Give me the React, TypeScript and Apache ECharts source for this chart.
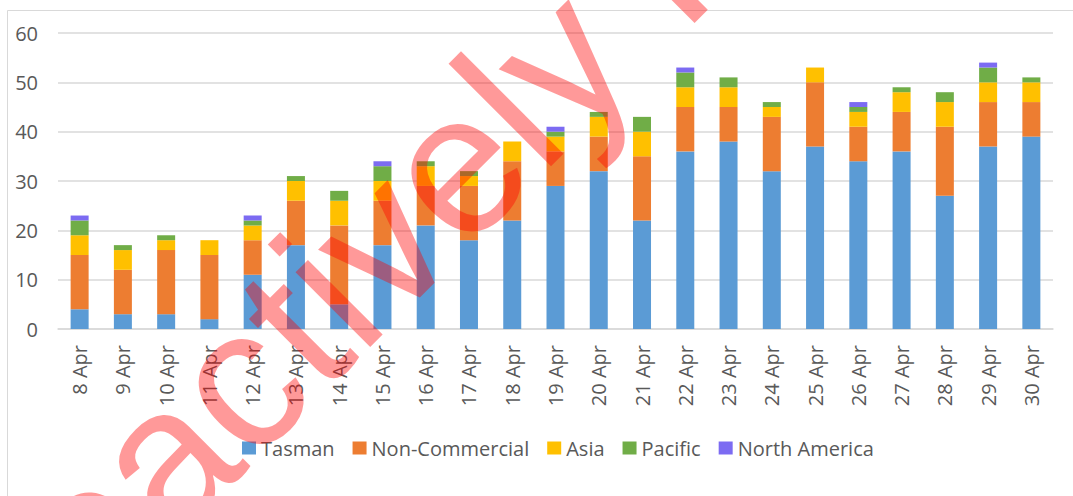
import React, { useEffect, useRef } from "react";
import * as echarts from "echarts";

const categories = [
  "8 Apr", "9 Apr", "10 Apr", "11 Apr", "12 Apr", "13 Apr", "14 Apr", "15 Apr",
  "16 Apr", "17 Apr", "18 Apr", "19 Apr", "20 Apr", "21 Apr", "22 Apr", "23 Apr",
  "24 Apr", "25 Apr", "26 Apr", "27 Apr", "28 Apr", "29 Apr", "30 Apr",
];
const tasman = [4, 3, 3, 2, 11, 17, 5, 17, 21, 18, 22, 29, 32, 22, 36, 38, 32, 37, 34, 36, 27, 37, 39];
const nonCommercial = [11, 9, 13, 13, 7, 9, 16, 9, 8, 11, 12, 7, 7, 13, 9, 7, 11, 13, 7, 8, 14, 9, 7];
const asia = [4, 4, 2, 3, 3, 4, 5, 4, 4, 2, 4, 3, 4, 5, 4, 4, 2, 3, 3, 4, 5, 4, 4];
const pacific = [3, 1, 1, 0, 1, 1, 2, 3, 1, 1, 0, 1, 1, 3, 3, 2, 1, 0, 1, 1, 2, 3, 1];
const northAmerica = [1, 0, 0, 0, 1, 0, 0, 1, 0, 0, 0, 1, 0, 0, 1, 0, 0, 0, 1, 0, 0, 1, 0];

const seriesNames = ["Tasman", "Non-Commercial", "Asia", "Pacific", "North America"];
const seriesColors = ["#5B9BD5", "#ED7D31", "#FFC000", "#70AD47", "#7C6BF2"];
const seriesData = [tasman, nonCommercial, asia, pacific, northAmerica];

const FONT = "'Open Sans', Lato, sans-serif";

export default function App() {
  const ref = useRef<HTMLDivElement>(null);
  useEffect(() => {
    if (!ref.current) return;
    const chart = echarts.init(ref.current, undefined, { renderer: "svg" });
    chart.setOption({
      animation: false,
      backgroundColor: "#ffffff",
      grid: { left: 58, right: 20, top: 33, bottom: 167, containLabel: false },
      legend: {
        left: 237,
        top: 433,
        itemWidth: 14,
        itemHeight: 13,
        itemGap: 18,
        icon: "rect",
        textStyle: { color: "#595959", fontSize: 20, fontFamily: FONT },
        data: seriesNames,
      },
      xAxis: {
        type: "category",
        data: categories,
        axisLine: { lineStyle: { color: "#D9D9D9", width: 1.5 } },
        axisTick: { show: false },
        axisLabel: { rotate: 90, margin: 16, color: "#595959", fontSize: 20, fontFamily: FONT, interval: 0 },
      },
      yAxis: {
        type: "value",
        min: 0,
        max: 60,
        interval: 10,
        axisLine: { show: false },
        axisTick: { show: false },
        axisLabel: { margin: 20, color: "#595959", fontSize: 20, fontFamily: FONT },
        splitLine: { lineStyle: { color: "#D9D9D9", width: 1.5 } },
      },
      series: seriesNames.map((name, i) => ({
        name,
        type: "bar",
        stack: "total",
        barWidth: 18,
        data: seriesData[i],
        itemStyle: { color: seriesColors[i] },
      })),
      graphic: [
        {
          type: "rect",
          z: 0,
          silent: true,
          shape: { x: 7.5, y: 10.5, width: 1200, height: 700 },
          style: { fill: "none", stroke: "#D9D9D9", lineWidth: 1 },
        },
        {
          type: "text",
          z: 100,
          silent: true,
          x: -97,
          y: 716,
          rotation: Math.PI / 4,
          style: {
            text: "Proactively Released",
            font: "200px 'Liberation Sans', Arial, sans-serif",
            fill: "rgba(255,0,0,0.4)",
            textAlign: "left",
            textVerticalAlign: "middle",
          },
        },
      ],
    });
    return () => chart.dispose();
  }, []);
  return (
    <div
      ref={ref}
      style={{ position: "absolute", left: 0, top: 0, width: 1073, height: 496 }}
    />
  );
}
